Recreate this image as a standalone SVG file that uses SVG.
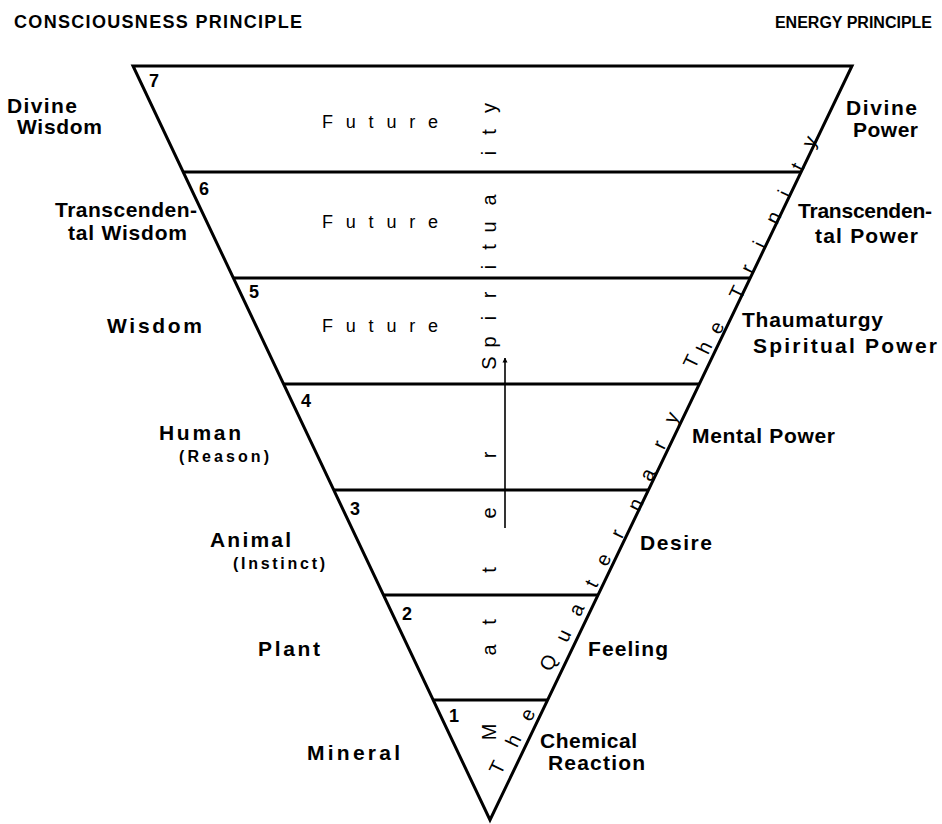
<svg xmlns="http://www.w3.org/2000/svg" width="942" height="824" viewBox="0 0 942 824">
<defs>
<style>
text { font-family: "Liberation Sans", Arial, sans-serif; fill: #000; }
.hdr { font-size: 18px; font-weight: bold; }
.hdr2 { font-size: 16px; font-weight: bold; text-anchor: end; }
.lbl { font-size: 21px; font-weight: bold; }
.sm { font-size: 16px; font-weight: bold; }
.num { font-size: 18px; font-weight: bold; }
.fut { font-size: 18px; }
.v { font-size: 20px; text-anchor: middle; }
.d { font-size: 20px; text-anchor: middle; }
.edge { fill: none; stroke: #000; stroke-width: 3; stroke-linejoin: miter; }
.lvl { stroke: #000; stroke-width: 3; }
.arr { stroke: #000; stroke-width: 1.6; fill: none; }
</style>
<marker id="ah" viewBox="0 0 10 10" refX="9" refY="5" markerWidth="5" markerHeight="7" orient="auto" markerUnits="userSpaceOnUse">
<path d="M0,0 L10,5 L0,10 Z" fill="#000"/>
</marker>
</defs>
<rect width="942" height="824" fill="#fff"/>

<g id="headers">
<text class="hdr" x="14" y="28" textLength="288">CONSCIOUSNESS PRINCIPLE</text>
<text class="hdr2" x="932" y="28">ENERGY PRINCIPLE</text>
</g>

<g id="triangle">
<polygon class="edge" points="133,66 852,66 490,820"/>
<line class="lvl" x1="183" y1="172" x2="801" y2="172"/>
<line class="lvl" x1="233" y1="278" x2="750" y2="278"/>
<line class="lvl" x1="284" y1="384" x2="699" y2="384"/>
<line class="lvl" x1="334" y1="490" x2="648" y2="490"/>
<line class="lvl" x1="383" y1="595" x2="598" y2="595"/>
<line class="lvl" x1="433" y1="700" x2="548" y2="700"/>
</g>

<g id="level7">
<text class="num" x="149" y="87">7</text>
<text class="fut" x="322" y="128" textLength="116">Future</text>
<text class="lbl" x="7" y="113" textLength="70">Divine</text>
<text class="lbl" x="17" y="134" textLength="85">Wisdom</text>
<text class="lbl" x="846" y="115" textLength="71">Divine</text>
<text class="lbl" x="853" y="137" textLength="65">Power</text>
</g>

<g id="level6">
<text class="num" x="199" y="195">6</text>
<text class="fut" x="322" y="228" textLength="116">Future</text>
<text class="lbl" x="55" y="217" textLength="142">Transcenden-</text>
<text class="lbl" x="68" y="240" textLength="119">tal Wisdom</text>
<text class="lbl" x="798" y="218" textLength="134">Transcenden-</text>
<text class="lbl" x="815" y="243" textLength="103">tal Power</text>
</g>

<g id="level5">
<text class="num" x="249" y="298">5</text>
<text class="fut" x="322" y="332" textLength="116">Future</text>
<text class="lbl" x="107" y="333" textLength="95">Wisdom</text>
<text class="lbl" x="742" y="327" textLength="141">Thaumaturgy</text>
<text class="lbl" x="753" y="353" textLength="184">Spiritual Power</text>
</g>

<g id="level4">
<text class="num" x="301" y="407">4</text>
<text class="lbl" x="159" y="440" textLength="82">Human</text>
<text class="sm" x="179" y="462" textLength="90">(Reason)</text>
<text class="lbl" x="692" y="443" textLength="143">Mental Power</text>
</g>

<g id="level3">
<text class="num" x="350" y="515">3</text>
<text class="lbl" x="210" y="547" textLength="81">Animal</text>
<text class="sm" x="233" y="569" textLength="92">(Instinct)</text>
<text class="lbl" x="640" y="550" textLength="72">Desire</text>
</g>

<g id="level2">
<text class="num" x="402" y="620">2</text>
<text class="lbl" x="258" y="656" textLength="62">Plant</text>
<text class="lbl" x="588" y="656" textLength="80">Feeling</text>
</g>

<g id="level1">
<text class="num" x="449" y="722">1</text>
<text class="lbl" x="307" y="760" textLength="93">Mineral</text>
<text class="lbl" x="540" y="748" textLength="97">Chemical</text>
<text class="lbl" x="548" y="770" textLength="97">Reaction</text>
</g>

<g id="axis-text">
<text class="v" transform="rotate(-90)" x="-732 -650 -622 -570 -513 -455" y="496">Matter</text>
<text class="v" transform="rotate(-90)" x="-363 -342 -318 -295 -267 -247 -227 -200 -172 -153 -132 -108" y="496">Spirituality</text>
</g>

<g id="quaternary">
<text class="d" transform="translate(498,768) rotate(-64.4)" y="6">T</text>
<text class="d" transform="translate(514,741) rotate(-64.4)" y="6">h</text>
<text class="d" transform="translate(528,715) rotate(-64.4)" y="6">e</text>
<text class="d" transform="translate(549,663) rotate(-64.4)" y="6">Q</text>
<text class="d" transform="translate(564,636) rotate(-64.4)" y="6">u</text>
<text class="d" transform="translate(577,610) rotate(-64.4)" y="6">a</text>
<text class="d" transform="translate(592,584) rotate(-64.4)" y="6">t</text>
<text class="d" transform="translate(604,560) rotate(-64.4)" y="6">e</text>
<text class="d" transform="translate(618,534) rotate(-64.4)" y="6">r</text>
<text class="d" transform="translate(636,505) rotate(-64.4)" y="6">n</text>
<text class="d" transform="translate(648,475) rotate(-64.4)" y="6">a</text>
<text class="d" transform="translate(660,445) rotate(-64.4)" y="6">r</text>
<text class="d" transform="translate(672,418) rotate(-64.4)" y="6">y</text>
</g>

<g id="trinity">
<text class="d" transform="translate(692,362) rotate(-64.4)" y="6">T</text>
<text class="d" transform="translate(705,348) rotate(-64.4)" y="6">h</text>
<text class="d" transform="translate(717,328) rotate(-64.4)" y="6">e</text>
<text class="d" transform="translate(738,293) rotate(-64.4)" y="6">T</text>
<text class="d" transform="translate(748,269) rotate(-64.4)" y="6">r</text>
<text class="d" transform="translate(760,245) rotate(-64.4)" y="6">i</text>
<text class="d" transform="translate(774,218) rotate(-64.4)" y="6">n</text>
<text class="d" transform="translate(785,194) rotate(-64.4)" y="6">i</text>
<text class="d" transform="translate(798,167) rotate(-64.4)" y="6">t</text>
<text class="d" transform="translate(810,142) rotate(-64.4)" y="6">y</text>
</g>

<g id="connectors">
<line class="arr" x1="505" y1="528" x2="505" y2="358" marker-end="url(#ah)"/>
</g>
</svg>
